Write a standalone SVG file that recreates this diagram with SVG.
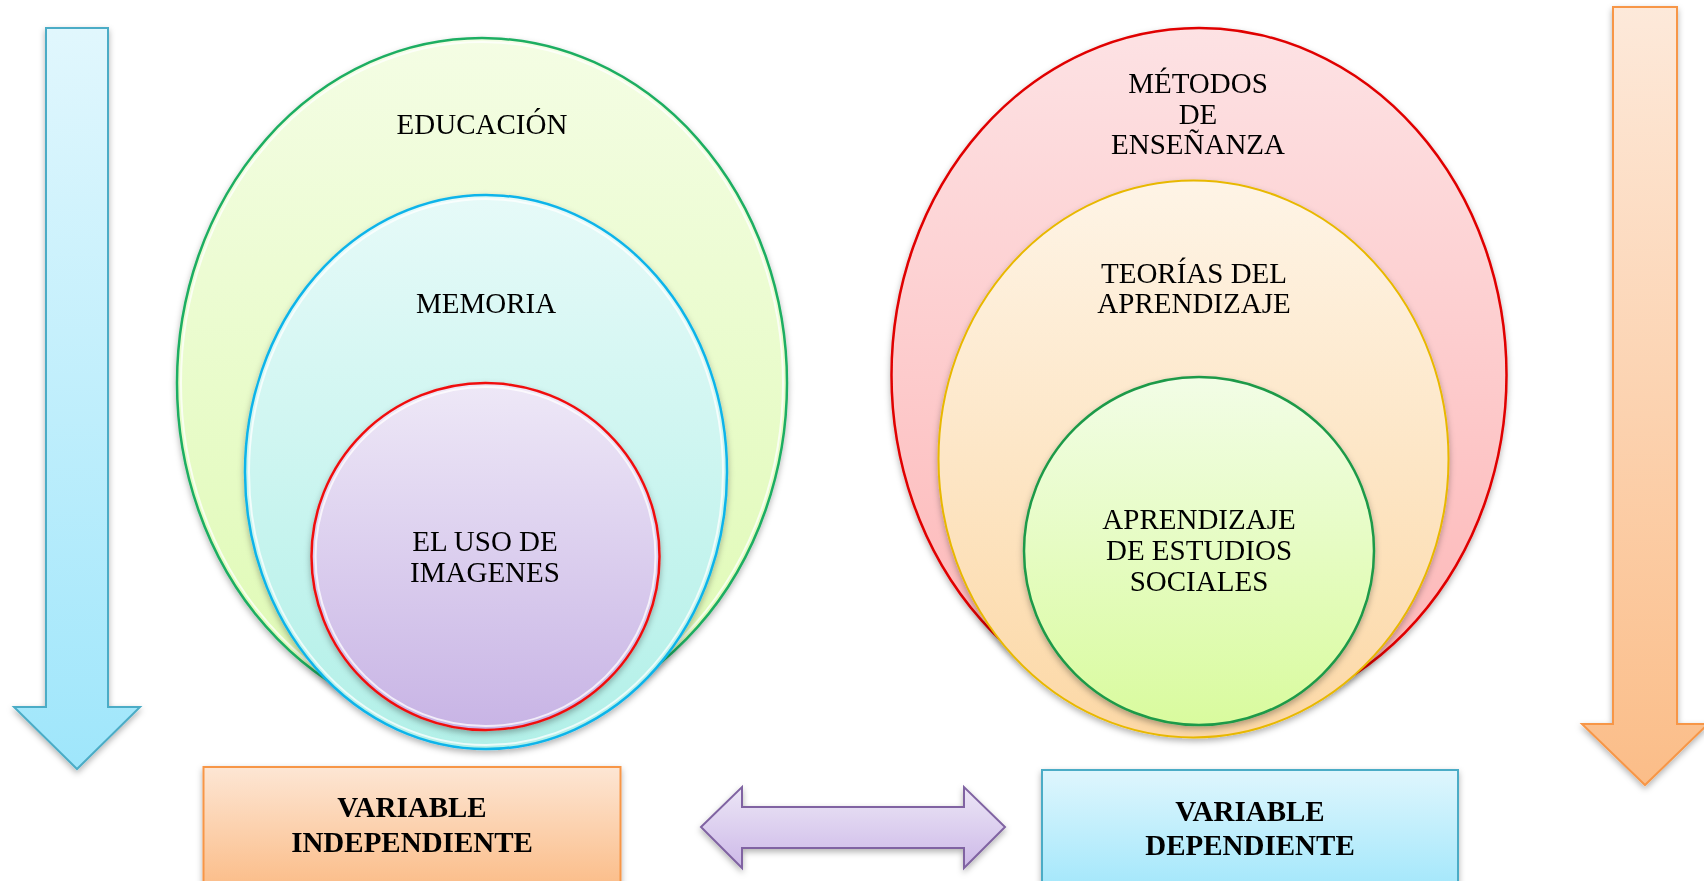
<svg xmlns="http://www.w3.org/2000/svg" width="1704" height="881" viewBox="0 0 1704 881">
<defs>
<linearGradient id="gBlueArrow" x1="0" y1="0" x2="0" y2="1"><stop offset="0" stop-color="#e1f7fd"/><stop offset="1" stop-color="#9fe6fb"/></linearGradient>
<linearGradient id="gOrangeArrow" x1="0" y1="0" x2="0" y2="1"><stop offset="0" stop-color="#fde9da"/><stop offset="1" stop-color="#fbbd88"/></linearGradient>
<linearGradient id="gOrangeBox" x1="0" y1="0" x2="0" y2="1"><stop offset="0" stop-color="#fde6d4"/><stop offset="1" stop-color="#fbbd89"/></linearGradient>
<linearGradient id="gBlueBox" x1="0" y1="0" x2="0" y2="1"><stop offset="0" stop-color="#dff6fd"/><stop offset="1" stop-color="#a3e7fb"/></linearGradient>
<linearGradient id="gPurple" x1="0" y1="0" x2="0" y2="1"><stop offset="0" stop-color="#ece6f6"/><stop offset="1" stop-color="#cdb9e8"/></linearGradient>
<linearGradient id="gLime" x1="0" y1="0" x2="0" y2="1"><stop offset="0" stop-color="#f4fde4"/><stop offset="1" stop-color="#defab2"/></linearGradient>
<linearGradient id="gAqua" x1="0" y1="0" x2="0" y2="1"><stop offset="0" stop-color="#e6faf8"/><stop offset="1" stop-color="#b2f0e8"/></linearGradient>
<linearGradient id="gLilac" x1="0" y1="0" x2="0" y2="1"><stop offset="0" stop-color="#eee8f7"/><stop offset="1" stop-color="#c8b4e5"/></linearGradient>
<linearGradient id="gPink" x1="0" y1="0" x2="0" y2="1"><stop offset="0" stop-color="#fde2e4"/><stop offset="1" stop-color="#fdb4b4"/></linearGradient>
<linearGradient id="gPeach" x1="0" y1="0" x2="0" y2="1"><stop offset="0" stop-color="#fef4e6"/><stop offset="1" stop-color="#fcd8a6"/></linearGradient>
<linearGradient id="gGreenIn" x1="0" y1="0" x2="0" y2="1"><stop offset="0" stop-color="#f2fde6"/><stop offset="1" stop-color="#d9fb9e"/></linearGradient>
<filter id="shadow" x="-10%" y="-10%" width="120%" height="125%">
<feDropShadow dx="0" dy="3" stdDeviation="3" flood-color="#000" flood-opacity="0.3"/>
</filter>
</defs>
<style>
.lbl{font-family:"Liberation Serif","Times New Roman",serif;font-size:29px;fill:#000;text-anchor:middle}
.bold{font-weight:bold}
.hl{fill:none;stroke:#fff;stroke-opacity:0.75;stroke-width:2}
</style>
<rect width="1704" height="881" fill="#ffffff"/>

<g id="arrow-left" filter="url(#shadow)">
<path d="M46,28 L108,28 L108,707 L140,707 L77,769 L14,707 L46,707 Z" fill="url(#gBlueArrow)" stroke="#4bacc6" stroke-width="2" stroke-linejoin="miter"/>
</g>
<g id="arrow-right" filter="url(#shadow)">
<path d="M1613,7 L1677,7 L1677,724 L1708,724 L1645,785 L1582,724 L1613,724 Z" fill="url(#gOrangeArrow)" stroke="#f79646" stroke-width="2"/>
</g>

<g id="educacion" filter="url(#shadow)">
<ellipse cx="482" cy="383" rx="305" ry="345" fill="url(#gLime)" stroke="#1fae62" stroke-width="2.5"/>
<ellipse cx="482" cy="383" rx="301" ry="341" class="hl"/>
<text class="lbl" x="482" y="134">EDUCACIÓN</text>
</g>
<g id="memoria" filter="url(#shadow)">
<ellipse cx="486" cy="472" rx="241" ry="277" fill="url(#gAqua)" stroke="#11b4ea" stroke-width="2.5"/>
<ellipse cx="486" cy="472" rx="237" ry="273" class="hl"/>
<text class="lbl" x="486" y="313">MEMORIA</text>
</g>
<g id="uso-imagenes" filter="url(#shadow)">
<ellipse cx="485.5" cy="556.5" rx="174" ry="173.5" fill="url(#gLilac)" stroke="#f01010" stroke-width="2.5"/>
<ellipse cx="485.5" cy="556.5" rx="170" ry="169.5" class="hl"/>
<text class="lbl" x="485" y="551">EL USO DE</text>
<text class="lbl" x="485" y="582">IMAGENES</text>
</g>

<g id="metodos" filter="url(#shadow)">
<ellipse cx="1199" cy="375" rx="307.5" ry="347" fill="url(#gPink)" stroke="#e00000" stroke-width="2.5"/>
<text class="lbl" x="1198" y="93">MÉTODOS</text>
<text class="lbl" x="1198" y="124">DE</text>
<text class="lbl" x="1198" y="154">ENSEÑANZA</text>
</g>
<g id="teorias" filter="url(#shadow)">
<ellipse cx="1193.5" cy="459" rx="255" ry="278.5" fill="url(#gPeach)" stroke="#e8b800" stroke-width="2"/>
<text class="lbl" x="1194" y="283">TEORÍAS DEL</text>
<text class="lbl" x="1194" y="313">APRENDIZAJE</text>
</g>
<g id="aprendizaje" filter="url(#shadow)">
<ellipse cx="1199" cy="551" rx="175" ry="174" fill="url(#gGreenIn)" stroke="#1e9a48" stroke-width="2.5"/>
<text class="lbl" x="1199" y="529">APRENDIZAJE</text>
<text class="lbl" x="1199" y="560">DE ESTUDIOS</text>
<text class="lbl" x="1199" y="591">SOCIALES</text>
</g>

<g id="var-independiente" filter="url(#shadow)">
<rect x="203.5" y="767" width="417" height="120" fill="url(#gOrangeBox)" stroke="#f79646" stroke-width="2"/>
<text class="lbl bold" x="412" y="817">VARIABLE</text>
<text class="lbl bold" x="412" y="852">INDEPENDIENTE</text>
</g>
<g id="var-dependiente" filter="url(#shadow)">
<rect x="1042" y="770" width="416" height="120" fill="url(#gBlueBox)" stroke="#4bacc6" stroke-width="2"/>
<text class="lbl bold" x="1250" y="821">VARIABLE</text>
<text class="lbl bold" x="1250" y="855">DEPENDIENTE</text>
</g>

<g id="connectors" filter="url(#shadow)">
<path d="M701,827 L742,787 L742,807 L964,807 L964,787 L1005,827 L964,868 L964,848 L742,848 L742,868 Z" fill="url(#gPurple)" stroke="#8064a2" stroke-width="2"/>
</g>
</svg>
